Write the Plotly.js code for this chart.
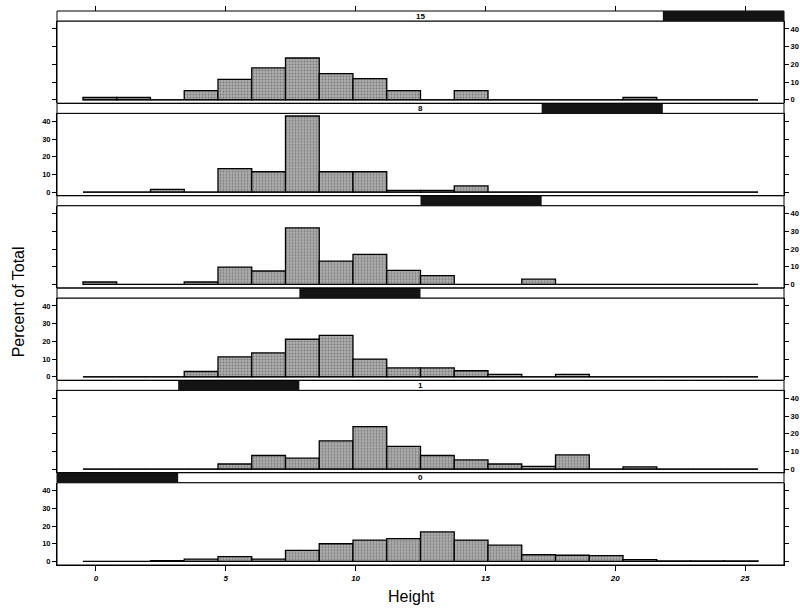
<!DOCTYPE html>
<html>
<head>
<meta charset="utf-8">
<script src="https://cdn.plot.ly/plotly-3.0.1.min.js"></script>
<style>html,body{margin:0;padding:0;background:#fff;}#chart{width:800px;height:609px;}</style>
</head>
<body>
<div id="chart"></div>
<script>
// Histogram bins (Height)
const binCenters = [0.15,1.45,2.75,4.05,5.35,6.65,7.95,9.25,10.55,11.85,13.15,14.45,15.75,17.05,18.35,19.65,20.95,22.25,23.55,24.85];
const binWidth = 1.3;
const binRange = [-0.5, 25.5];

// Percent of total per panel (bottom panel first)
const pct0 = [0,0,0.5,1.3,2.7,1.3,6.3,10,12,12.9,16.7,12.1,9.2,3.8,3.5,3.3,1,0.3,0.3,0.3];
const pct1 = [0,0,0,0,2.9,7.7,6.2,16,24,12.9,7.7,5.2,2.9,1.5,8,0,1.3,0,0,0];
const pct2 = [0,0,0,3,11.3,13.5,21.2,23.4,10,5,5,3.4,1.4,0,1.4,0,0,0,0,0];
const pct3 = [1.4,0,0,1.4,9.8,7.6,32,13.2,17,8,5,0,0,3,0,0,0,0,0,0];
const pct4 = [0,0,1.5,0,13.3,11.5,43,11.5,11.5,1,1,3.5,0,0,0,0,0,0,0,0];
const pct5 = [1.3,1.3,0,5.2,11.5,18,23.6,14.8,12,5.2,0,5.2,0,0,0,0,1.3,0,0,0];
const panelValues = [pct0, pct1, pct2, pct3, pct4, pct5];

// Strip labels and shingle intervals (fraction of the conditioning range)
const panelLabels = ['0','1','','','8','15'];
const shingleLo = [0, 1/6, 2/6, 3/6, 4/6, 5/6];
const shingleHi = [1/6, 2/6, 3/6, 4/6, 5/6, 1];

const xTicks = [0,5,10,15,20,25];
const yTicks = [0,10,20,30,40];

const N = panelValues.length;
const s = 10/554; // strip height in paper units
const traces = [];
const layout = {
  width: 800, height: 609,
  margin: {l:57, r:16, t:11, b:44},
  paper_bgcolor:'#fff', plot_bgcolor:'#fff',
  showlegend:false, bargap:0,
  font:{family:'Liberation Sans, Arial, sans-serif', color:'#000'},
  shapes:[], annotations:[],
  xaxis:{range:[-1.5,26.5], tickvals:xTicks, ticktext:xTicks.map(String), ticks:'outside', ticklen:5, tickwidth:1, tickcolor:'#000',
         showgrid:false, zeroline:false, showline:true, linecolor:'#000', linewidth:1, anchor:'y',
         tickfont:{size:8, style:'italic', weight:'bold', color:'#000'}},
  xaxis2:{range:[-1.5,26.5], tickvals:xTicks, ticks:'outside', ticklen:5, tickwidth:1, tickcolor:'#000',
          showticklabels:false, showgrid:false, zeroline:false, overlaying:'x', side:'top', anchor:'free', position:1}
};

for (let i=0;i<N;i++){
  const yname = i===0 ? 'y' : 'y'+(i+1);
  const ykey = i===0 ? 'yaxis' : 'yaxis'+(i+1);
  const lo = i/N, hi = (i+1)/N - s;
  layout[ykey] = {
    domain:[lo, hi], range:[-2, 44.5], anchor:'x',
    tickvals:yTicks, ticks:'outside', ticklen:4, tickwidth:1, tickcolor:'#000',
    showgrid:false, zeroline:false, showline:true, mirror:'ticks', linecolor:'#000', linewidth:1,
    side: (i%2===0) ? 'left' : 'right',
    tickfont:{size:7.5, weight:'bold', color:'#000'}
  };
  traces.push({
    type:'scatter', mode:'lines', x:binRange, y:[0,0], xaxis:'x', yaxis:yname,
    line:{color:'#000', width:1}, hoverinfo:'skip'
  });
  traces.push({
    type:'bar', x:binCenters, y:panelValues[i], width:binWidth, xaxis:'x', yaxis:yname,
    marker:{color:'#adadad', line:{color:'#000', width:1.3},
            pattern:{shape:'.', fillmode:'overlay', fgcolor:'#454545', size:3, solidity:0.3}}
  });
  // panel frame
  layout.shapes.push({type:'rect', xref:'paper', yref:'paper', x0:0, x1:1, y0:lo, y1:hi,
    line:{color:'#000', width:1}, fillcolor:'rgba(0,0,0,0)'});
  // strip
  layout.shapes.push({type:'rect', xref:'paper', yref:'paper', x0:0, x1:1, y0:hi, y1:(i+1)/N,
    line:{color:'#000', width:1}, fillcolor:'#fff', layer:'above'});
  layout.shapes.push({type:'rect', xref:'paper', yref:'paper', x0:shingleLo[i], x1:shingleHi[i], y0:hi, y1:(i+1)/N,
    line:{width:0}, fillcolor:'#141414', layer:'above'});
  if (panelLabels[i]) {
    layout.annotations.push({xref:'paper', yref:'paper', x:0.5, y:(hi+(i+1)/N)/2, text:panelLabels[i],
      showarrow:false, xanchor:'center', yanchor:'middle', font:{size:8, weight:'bold', color:'#000'}});
  }
}
// dummy trace to activate top axis
traces.push({type:'scatter', mode:'markers', x:[0], y:[0], xaxis:'x2', yaxis:'y6', marker:{opacity:0}, hoverinfo:'skip'});

layout.annotations.push({xref:'paper', yref:'paper', x:-0.053, y:0.475, text:'Percent of Total', textangle:-90,
  showarrow:false, xanchor:'center', yanchor:'middle', font:{size:16, color:'#000'}});
layout.annotations.push({xref:'paper', yref:'paper', x:0.488, y:-0.056, text:'Height',
  showarrow:false, xanchor:'center', yanchor:'middle', font:{size:16, color:'#000'}});

Plotly.newPlot('chart', traces, layout, {displayModeBar:false, staticPlot:true});
</script>
</body>
</html>
